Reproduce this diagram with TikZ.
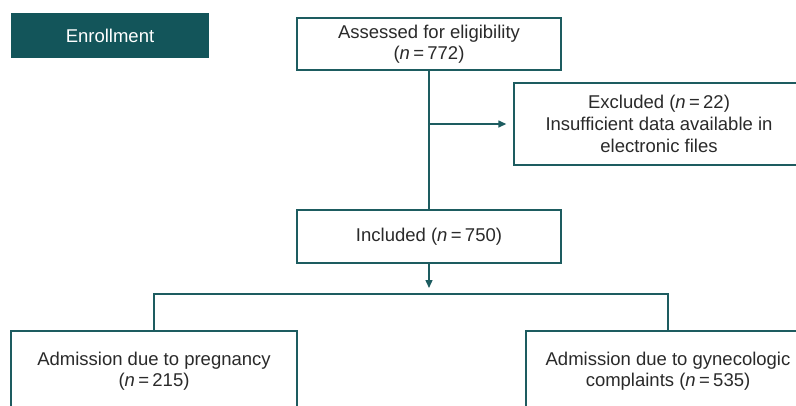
\documentclass[tikz,border=0pt]{standalone}
\usepackage{fontspec}
\setmainfont{Liberation Sans}
\usetikzlibrary{arrows.meta}
\definecolor{tealline}{HTML}{1D5C60}
\definecolor{tealfill}{HTML}{13555A}
\definecolor{txt}{HTML}{2A2A2A}
\newcommand{\eqsp}{\hspace{0.18em}=\hspace{0.18em}}
\begin{document}
\begin{tikzpicture}[x=1pt,y=-1pt,
  font=\fontsize{18.5}{21.5}\selectfont,
  box/.style={draw=tealline, line width=1.4pt, fill=white, text=txt, align=center, inner sep=0pt},
  enroll/.style={fill=tealfill, text=white, inner sep=0pt, minimum width=198pt, minimum height=45pt},
  conn/.style={draw=tealline, line width=1.4pt},
  arr/.style={conn, -{Triangle[length=8pt,width=7pt]}}]
\useasboundingbox (0,0) rectangle (796,405);
\clip (0,0) rectangle (796,405);
\node[enroll] (enr) at (110,35.5) {Enrollment};
\node[box, minimum width=264pt, minimum height=52pt] (assess) at (429,44) {Assessed for eligibility\\(\textit{n}\eqsp772)};
\node[box, minimum width=290pt, minimum height=82pt, font=\fontsize{18.5}{22}\selectfont] (excl) at (659,124) {Excluded (\textit{n}\eqsp22)\\Insufficient data available in\\electronic files};
\node[box, minimum width=264pt, minimum height=53pt] (incl) at (429,236.5) {Included (\textit{n}\eqsp750)};
\node[box, minimum width=286pt, minimum height=80pt] (preg) at (154,371) {Admission due to pregnancy\\(\textit{n}\eqsp215)};
\node[box, minimum width=284pt, minimum height=80pt] (gyn) at (668,371) {Admission due to gynecologic\\complaints (\textit{n}\eqsp535)};
\coordinate (split) at (429,294);
\draw[conn] (assess.south) -- (incl.north);
\draw[arr, shorten >=7pt] (assess.south |- excl.west) -- (excl.west);
\draw[arr, shorten >=6pt] (incl.south) -- (split);
\draw[conn] (preg.north) |- (split) -| (gyn.north);
\end{tikzpicture}
\end{document}
